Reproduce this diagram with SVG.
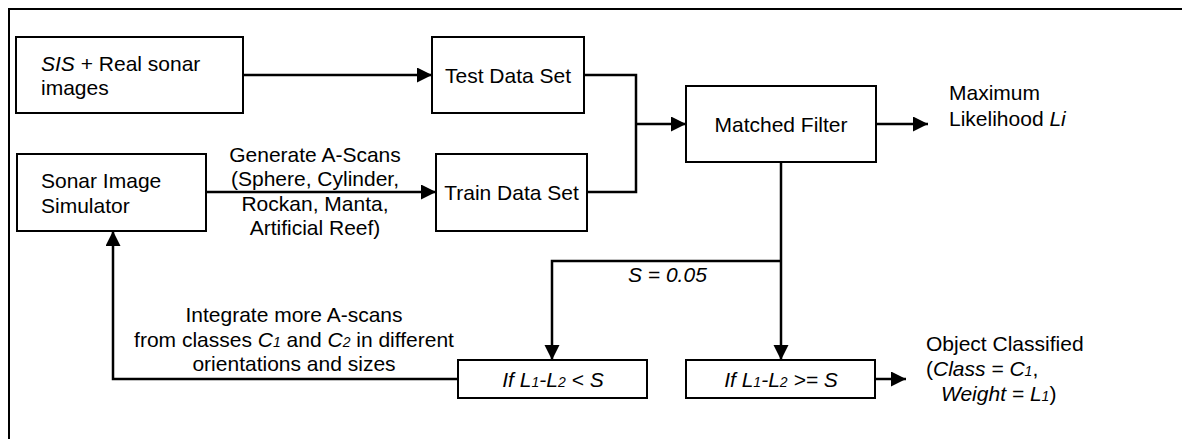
<svg xmlns="http://www.w3.org/2000/svg" width="1182" height="439" viewBox="0 0 1182 439">
<style>
  text { font-family: "Liberation Sans", Arial, sans-serif; font-size: 21px; fill: #000; }
  .c { text-anchor: middle; }
  .i { font-style: italic; }
  .s { font-size: 14px; }
  .box { fill: #fff; stroke: #000; stroke-width: 2; }
  .wire { fill: none; stroke: #000; stroke-width: 2.5; }
  .frame { fill: none; stroke: #000; stroke-width: 2; }
</style>
<defs>
  <marker id="arr" markerUnits="userSpaceOnUse" markerWidth="16" markerHeight="16" refX="15" refY="7.5" orient="auto">
    <path d="M0,0 L15,7.5 L0,15 z" fill="#000"/>
  </marker>
</defs>
<rect width="1182" height="439" fill="#fff"/>
<path class="frame" d="M9,439 V9 H1182"/>

<g id="connectors">
  <path class="wire" d="M243,75 H432" marker-end="url(#arr)"/>
  <path class="wire" d="M206,192 H436" marker-end="url(#arr)"/>
  <path class="wire" d="M584,75 H636 V192 H587"/>
  <path class="wire" d="M636,124 H686" marker-end="url(#arr)"/>
  <path class="wire" d="M876,124 H928" marker-end="url(#arr)"/>
  <path class="wire" d="M781,162 V360" marker-end="url(#arr)"/>
  <path class="wire" d="M781,261 H552 V360" marker-end="url(#arr)"/>
  <path class="wire" d="M875,379 H906" marker-end="url(#arr)"/>
  <path class="wire" d="M458,379 H113 V231" marker-end="url(#arr)"/>
  <text x="315" y="162" class="c">Generate A-Scans</text>
  <text x="315" y="186" class="c">(Sphere, Cylinder,</text>
  <text x="315" y="211" class="c">Rockan, Manta,</text>
  <text x="315" y="235" class="c">Artificial Reef)</text>
  <text x="628" y="282" class="i">S = 0.05</text>
  <text x="294" y="322" class="c">Integrate more A-scans</text>
  <text x="294" y="347" class="c">from classes <tspan class="i">C</tspan><tspan class="i s">1</tspan> and <tspan class="i">C</tspan><tspan class="i s">2</tspan> in different</text>
  <text x="294" y="371" class="c">orientations and sizes</text>
</g>

<g id="sis">
  <rect class="box" x="16" y="37" width="227" height="76"/>
  <text x="41" y="71"><tspan class="i">SIS</tspan> + Real sonar</text>
  <text x="41" y="95">images</text>
</g>

<g id="simulator">
  <rect class="box" x="17" y="154" width="189" height="77"/>
  <text x="41" y="188">Sonar Image</text>
  <text x="41" y="213">Simulator</text>
</g>

<g id="test">
  <rect class="box" x="432" y="37" width="152" height="76"/>
  <text x="508" y="83" class="c">Test Data Set</text>
</g>

<g id="train">
  <rect class="box" x="436" y="154" width="151" height="77"/>
  <text x="511.5" y="200" class="c">Train Data Set</text>
</g>

<g id="matched">
  <rect class="box" x="686" y="86" width="190" height="76"/>
  <text x="781" y="132" class="c">Matched Filter</text>
</g>

<g id="maxlik">
  <text x="949" y="100">Maximum</text>
  <text x="949" y="126">Likelihood <tspan class="i">Li</tspan></text>
</g>

<g id="less">
  <rect class="box" x="458" y="360" width="189" height="38"/>
  <text x="553" y="387" class="c i">If L<tspan class="s">1</tspan>-L<tspan class="s">2</tspan> &lt; S</text>
</g>

<g id="greater">
  <rect class="box" x="686" y="360" width="189" height="38"/>
  <text x="781" y="387" class="c i">If L<tspan class="s">1</tspan>-L<tspan class="s">2</tspan> &gt;= S</text>
</g>

<g id="classified">
  <text x="926" y="351">Object Classified</text>
  <text x="926" y="376">(<tspan class="i">Class = C</tspan><tspan class="i s">1</tspan>,</text>
  <text x="941" y="401"><tspan class="i">Weight = L</tspan><tspan class="i s">1</tspan>)</text>
</g>
</svg>
